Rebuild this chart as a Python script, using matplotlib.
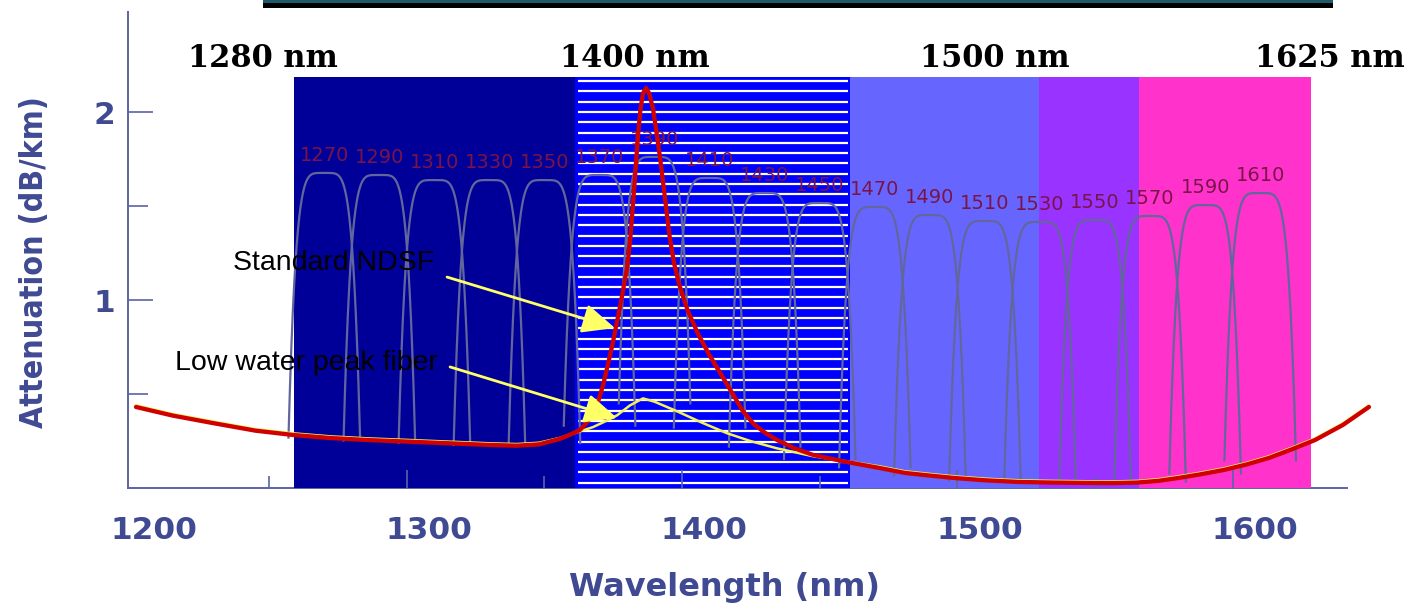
import numpy as np
import matplotlib.pyplot as plt
from matplotlib.patches import Rectangle
from matplotlib.transforms import ScaledTranslation

# CWDM channel centres (nm) and passband peak heights (dB/km scale of the plot)
channel_nm = [1270, 1290, 1310, 1330, 1350, 1370, 1390, 1410, 1430,
              1450, 1470, 1490, 1510, 1530, 1550, 1570, 1590, 1610]
channel_peak = [1.676, 1.665, 1.638, 1.638, 1.638, 1.665, 1.761, 1.649, 1.569,
                1.516, 1.495, 1.452, 1.420, 1.415, 1.426, 1.447, 1.505, 1.569]

# spectral bands (edges in nm) and their fill colours
band_edges_nm = [1259, 1361, 1461, 1529.5, 1566, 1628.5]
band_colors = ['#000099', '#0000ff', '#6666ff', '#9933ff', '#ff33cc']
band_top = 2.186
band_labels = ['1280 nm', '1400 nm', '1500 nm', '1625 nm']

# standard NDSF attenuation curve
ndsf_nm = [1201.6, 1215, 1229.3, 1245, 1258.7, 1272, 1285.9, 1300, 1315, 1330,
           1340, 1348, 1355.7, 1360, 1362.9, 1365.2, 1367.6, 1369.5, 1371.3, 1373.1,
           1374.9, 1377.9, 1380.0, 1381.2, 1382.2, 1383.1, 1384.0, 1384.9, 1385.8, 1386.9,
           1388.0, 1389.4, 1390.7, 1392.0, 1393.3, 1394.5, 1395.5, 1397.0, 1399.0, 1402.0,
           1406.0, 1410.0, 1418.0, 1422.0, 1426.0, 1430.0, 1434.5, 1441.0, 1447.6, 1459.9,
           1471.9, 1481.0, 1490.0, 1499.1, 1510.0, 1522.4, 1535.0, 1547.1, 1556.0, 1565.3,
           1573.0, 1580.1, 1588.0, 1596.8, 1605.0, 1613.2, 1621.0, 1629.9, 1640.0, 1649.5]
ndsf_att = [0.431, 0.385, 0.346, 0.305, 0.282, 0.266, 0.255, 0.247, 0.238, 0.229,
            0.225, 0.232, 0.262, 0.288, 0.309, 0.345, 0.388, 0.460, 0.548, 0.660,
            0.777, 1.000, 1.170, 1.330, 1.520, 1.700, 1.880, 2.020, 2.100, 2.128,
            2.100, 2.020, 1.890, 1.755, 1.600, 1.452, 1.335, 1.200, 1.080, 0.945,
            0.813, 0.705, 0.510, 0.410, 0.340, 0.295, 0.255, 0.210, 0.176, 0.138,
            0.106, 0.080, 0.066, 0.053, 0.041, 0.032, 0.029, 0.027, 0.026, 0.029,
            0.038, 0.053, 0.072, 0.096, 0.125, 0.160, 0.203, 0.255, 0.335, 0.431]

# low water peak fibre: differs from NDSF only around the 1383 nm water peak
lwp_peak_nm = [1355.7, 1362, 1367.6, 1372, 1376.4, 1381, 1385.8, 1390, 1398.2,
               1407, 1416.4, 1425, 1434.5, 1447.6, 1459.9]
lwp_peak_att = [0.258, 0.288, 0.315, 0.345, 0.378, 0.430, 0.468, 0.450, 0.399,
                0.340, 0.282, 0.240, 0.202, 0.160, 0.133]

lwp_nm = [w for w in ndsf_nm if w < 1355.7] + lwp_peak_nm + [w for w in ndsf_nm if w > 1459.9]
lwp_att = ([a for w, a in zip(ndsf_nm, ndsf_att) if w < 1355.7] + lwp_peak_att
           + [a for w, a in zip(ndsf_nm, ndsf_att) if w > 1459.9])

axis_color = '#5a64a6'
text_color = '#3f4a93'

fig = plt.figure(figsize=(14.14, 6.09), dpi=100)
ax = fig.add_axes([128 / 1414, 121 / 609, 1247.8 / 1414, 476 / 609])
ax.set_xlim(1198.7, 1652)
ax.set_ylim(0, 2.532)

# coloured bands
for i, col in enumerate(band_colors):
    ax.add_patch(Rectangle((band_edges_nm[i], 0), band_edges_nm[i + 1] - band_edges_nm[i],
                           band_top, facecolor=col, edgecolor='none', zorder=1))
# white stripes in the water peak band
ax.hlines(np.arange(2.165, 0.0, -0.0548), band_edges_nm[1] + 1.1, band_edges_nm[2] - 0.7,
          color='white', lw=1.6, zorder=1.1)

# channel passbands (rounded top, steep skirts down to the fibre curve)
for c, h in zip(channel_nm, channel_peak):
    base = np.interp(c, lwp_nm, lwp_att)
    x = np.linspace(c - 13, c + 13, 400)
    f = 1 - np.abs((x - c) / 13) ** 5
    ax.plot(x, base + (h - base) * f, color='#62669c', lw=1.6, zorder=2)
    ax.annotate(str(c), (c, h), xytext=(0, 8.5), textcoords='offset points',
                ha='center', va='baseline', fontsize=14, color='#7a1448', zorder=2.6)

# attenuation curves
glow = ax.transData + ScaledTranslation(0, 1.2 / 72, fig.dpi_scale_trans)
ax.plot(lwp_nm, lwp_att, color='#f2f25a', lw=1.8, zorder=3, transform=glow,
        solid_capstyle='round')
ax.plot(ndsf_nm, ndsf_att, color='#d00000', lw=3.1, zorder=3.5, solid_capstyle='round',
        solid_joinstyle='round', clip_on=False)

# labels with arrows
ax.text(1236.9, 1.160, 'Standard NDSF', fontsize=20.5, family='Liberation Sans',
        ha='left', va='baseline', color='black', zorder=4)
ax.text(1215.8, 0.628, 'Low water peak fiber', fontsize=20.5, family='Liberation Sans',
        ha='left', va='baseline', color='black', zorder=4)
arrow = dict(arrowstyle='-|>,head_length=2.0,head_width=0.9', color='#ffff66', lw=2.0,
             shrinkA=0, shrinkB=0)
ax.annotate('', xy=(1375.6, 0.851), xytext=(1314.6, 1.122), arrowprops=arrow, zorder=4)
ax.annotate('', xy=(1376.4, 0.372), xytext=(1315.7, 0.644), arrowprops=arrow, zorder=4)

# band labels above the plot
for lbl, xpos in zip(band_labels, [1247.9, 1382.9, 1513.7, 1635.3]):
    ax.text(xpos, 2.239, lbl, fontsize=22, family='DejaVu Serif', fontweight='bold',
            ha='center', va='baseline', color='black', clip_on=False)

# black bar at the top
fig.add_artist(Rectangle((263 / 1414, 1 - 8 / 609), 1070 / 1414, 8 / 609,
                         transform=fig.transFigure, facecolor='black', edgecolor='none'))
fig.add_artist(Rectangle((263 / 1414, 1 - 2.5 / 609), 1070 / 1414, 2.5 / 609,
                         transform=fig.transFigure, facecolor='#1f5a6b', edgecolor='none'))

# axes styling
for s in ['top', 'right']:
    ax.spines[s].set_visible(False)
for s in ['left', 'bottom']:
    ax.spines[s].set_color(axis_color)
    ax.spines[s].set_linewidth(1.4)
    ax.spines[s].set_zorder(0.5)
ax.spines['bottom'].set_bounds(1198.7, 1641.5)

ax.set_xticks([1200, 1300, 1400, 1500, 1600])
ax.set_xticks([1250, 1350, 1450, 1550], minor=True)
ax.set_yticks([1, 2])
ax.set_yticks([0.5, 1.5], minor=True)
ax.tick_params(axis='x', which='major', direction='in', length=13, width=1.2,
               color=axis_color, labelsize=22.5, labelcolor=text_color, pad=20)
ax.tick_params(axis='x', which='minor', direction='in', length=8.5, width=1.2,
               color=axis_color)
ax.tick_params(axis='y', which='major', direction='in', length=18, width=1.2,
               color=axis_color, labelsize=22.5, labelcolor=text_color, pad=9.4)
ax.tick_params(axis='y', which='minor', direction='in', length=14.4, width=1.2,
               color=axis_color)
ax.xaxis.get_major_ticks()[0].tick1line.set_visible(False)
shift = ScaledTranslation(22 / 100, 0, fig.dpi_scale_trans)
for lbl in ax.get_xticklabels():
    lbl.set_fontweight('bold')
    lbl.set_transform(lbl.get_transform() + shift)
for lbl in ax.get_yticklabels():
    lbl.set_fontweight('bold')

ax.set_xlabel('Wavelength (nm)', fontsize=23, fontweight='bold', color=text_color)
ax.xaxis.set_label_coords(0.4784, -0.1765)
ax.set_ylabel('Attenuation (dB/km)', fontsize=23, fontweight='bold', color=text_color,
              fontstretch='condensed')
ax.yaxis.set_label_coords(-0.0625, 0.4748)

fig.savefig('out.png', dpi=100)
